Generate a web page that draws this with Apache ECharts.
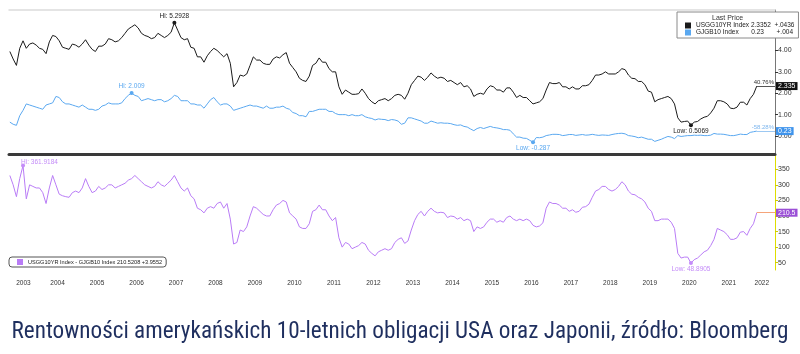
<!DOCTYPE html>
<html lang="pl">
<head>
    <meta charset="UTF-8">
    <title>USGG10YR / GJGB10</title>
    <script src="https://cdn.jsdelivr.net/npm/echarts@6/dist/echarts.min.js"></script>
    <style>
        * { margin: 0; padding: 0; }
        body { background-color: #fff; overflow: hidden; }
        #main { width: 800px; height: 354px; }
    </style>
</head>
<body>
<div id="main"></div>
<script type="text/javascript">

    // first month of data (year, month), one value per month after that
    var firstYear = 2003, firstMonth = 4;

    // USGG10YR Index, %
    var usYield = [
        3.95, 3.6, 3.3, 4.1, 4.45, 4.1, 4.3, 4.35, 4.25,
        4.1, 4.05, 3.85, 4.4, 4.7, 4.65, 4.45, 4.15, 4.1, 4.05, 4.3, 4.25,
        4.15, 4.3, 4.5, 4.25, 4.05, 3.95, 4.2, 4.2, 4.3, 4.55, 4.5, 4.4,
        4.45, 4.6, 4.8, 5.0, 5.1, 5.2, 5.05, 4.8, 4.7, 4.65, 4.55, 4.6,
        4.8, 4.7, 4.6, 4.7, 4.85, 5.2928, 4.95, 4.6, 4.5, 4.55, 4.15, 4.1,
        3.7, 3.7, 3.45, 3.75, 3.95, 4.1, 4.0, 3.85, 3.7, 3.85, 3.4, 2.3,
        2.5, 2.85, 2.8, 2.9, 3.3, 3.7, 3.55, 3.55, 3.4, 3.35, 3.35, 3.6,
        3.7, 3.65, 3.8, 3.9, 3.4, 3.2, 3.0, 2.7, 2.6, 2.55, 2.8, 3.3,
        3.4, 3.65, 3.45, 3.45, 3.15, 3.0, 3.0, 2.3, 1.95, 2.15, 2.05, 1.95,
        1.95, 1.98, 2.2, 2.0, 1.75, 1.6, 1.5, 1.65, 1.7, 1.75, 1.65, 1.75,
        1.9, 1.95, 1.9, 1.72, 2.0, 2.4, 2.6, 2.8, 2.75, 2.6, 2.75, 2.95,
        2.8, 2.7, 2.75, 2.7, 2.55, 2.6, 2.5, 2.4, 2.5, 2.3, 2.35, 2.2,
        1.85, 1.95, 2.0, 1.95, 2.2, 2.35, 2.3, 2.15, 2.15, 2.05, 2.25, 2.25,
        2.05, 1.8, 1.9, 1.8, 1.8, 1.65, 1.5, 1.55, 1.6, 1.75, 2.15, 2.5,
        2.45, 2.45, 2.5, 2.3, 2.3, 2.2, 2.3, 2.2, 2.2, 2.35, 2.35, 2.4,
        2.6, 2.85, 2.85, 2.9, 3.0, 2.9, 2.9, 2.9, 3.0, 3.15, 3.1, 2.85,
        2.7, 2.68, 2.55, 2.55, 2.4, 2.1, 2.05, 1.6, 1.7, 1.75, 1.8, 1.85,
        1.75, 1.5, 0.85, 0.65, 0.68, 0.7, 0.5069, 0.65, 0.68, 0.8, 0.88, 0.92,
        1.08, 1.3, 1.65, 1.65, 1.6, 1.5, 1.3, 1.28, 1.35, 1.58, 1.58, 1.45,
        1.75, 1.95, 2.3352
    ];

    // GJGB10 Index, %
    var jpYield = [
        0.65, 0.55, 0.5, 0.95, 1.2, 1.5, 1.45, 1.4, 1.35,
        1.3, 1.25, 1.45, 1.5, 1.55, 1.85, 1.8, 1.6, 1.5, 1.5, 1.45, 1.4,
        1.35, 1.45, 1.35, 1.25, 1.25, 1.2, 1.25, 1.4, 1.45, 1.55, 1.5, 1.5,
        1.5, 1.55, 1.75, 1.9, 2.009, 1.9, 1.85, 1.65, 1.7, 1.75, 1.7, 1.65,
        1.7, 1.7, 1.6, 1.65, 1.75, 1.9, 1.85, 1.65, 1.65, 1.65, 1.5, 1.5,
        1.45, 1.45, 1.3, 1.5, 1.7, 1.8, 1.6, 1.45, 1.5, 1.5, 1.4, 1.2,
        1.25, 1.3, 1.35, 1.4, 1.45, 1.4, 1.4, 1.35, 1.3, 1.4, 1.3, 1.3,
        1.35, 1.35, 1.4, 1.3, 1.25, 1.1, 1.05, 0.95, 0.95, 0.9, 1.15, 1.15,
        1.2, 1.25, 1.25, 1.25, 1.15, 1.15, 1.05, 1.0, 1.0, 1.0, 0.95, 1.0,
        0.95, 0.95, 1.0, 0.9, 0.85, 0.82, 0.75, 0.8, 0.78, 0.77, 0.72, 0.77,
        0.75, 0.7, 0.55, 0.6, 0.85, 0.85, 0.8, 0.75, 0.7, 0.6, 0.6, 0.7,
        0.65, 0.6, 0.62, 0.6, 0.6, 0.58, 0.53, 0.5, 0.52, 0.45, 0.42, 0.33,
        0.25, 0.35, 0.4, 0.35, 0.4, 0.45, 0.4, 0.38, 0.35, 0.3, 0.3, 0.27,
        0.1, -0.05, -0.05, -0.1, -0.11, -0.2, -0.287, -0.07, -0.08, -0.05, 0.02, 0.05,
        0.08, 0.08, 0.07, 0.02, 0.04, 0.07, 0.07, 0.03, 0.05, 0.07, 0.04, 0.05,
        0.08, 0.05, 0.03, 0.05, 0.04, 0.03, 0.07, 0.1, 0.12, 0.13, 0.1, 0.02,
        0.0, -0.03, -0.08, -0.05, -0.1, -0.15, -0.15, -0.25, -0.2, -0.15, -0.08, -0.02,
        -0.05, -0.12, 0.02, -0.02, 0.0, 0.02, 0.02, 0.04, 0.03, 0.04, 0.02, 0.02,
        0.04, 0.12, 0.09, 0.09, 0.08, 0.05, 0.02, 0.02, 0.05, 0.09, 0.07, 0.07,
        0.17, 0.2, 0.23
    ];

    // USGG10YR Index - GJGB10 Index, bp
    var spreadBp = [
        330, 300, 262, 320, 361.9184, 255, 300, 295, 290,
        290, 275, 240, 290, 330, 300, 270, 265, 262, 260, 275, 280,
        275, 290, 320, 295, 275, 280, 295, 285, 290, 300, 300, 290,
        295, 300, 305, 315, 320, 330, 320, 310, 300, 295, 290, 295,
        310, 300, 295, 305, 315, 330, 310, 290, 280, 290, 265, 255,
        225, 220, 210, 225, 230, 225, 240, 245, 225, 240, 190, 110,
        115, 155, 150, 165, 200, 230, 225, 215, 205, 200, 200, 220,
        235, 240, 250, 245, 210, 200, 190, 165, 160, 160, 175, 215,
        220, 235, 220, 220, 200, 185, 195, 130, 100, 115, 110, 95,
        100, 105, 115, 110, 90, 80, 72, 85, 90, 95, 90, 95,
        115, 125, 130, 112, 120, 155, 185, 205, 215, 200, 215, 225,
        215, 210, 212, 210, 195, 200, 198, 190, 195, 185, 190, 185,
        150, 165, 160, 165, 180, 190, 190, 180, 185, 180, 195, 200,
        190, 185, 190, 185, 190, 185, 170, 165, 168, 178, 225, 245,
        240, 240, 235, 225, 225, 215, 220, 212, 215, 228, 230, 238,
        260, 280, 285, 295, 295, 285, 280, 285, 295, 310, 300, 280,
        270, 268, 260, 255, 245, 225, 215, 185, 185, 190, 190, 190,
        180, 160, 80, 65, 68, 68, 48.8905, 60, 65, 75, 85, 90,
        105, 125, 160, 155, 150, 140, 125, 125, 130, 148, 150, 138,
        160, 175, 210.5208
    ];

    var years = [2003, 2004, 2005, 2006, 2007, 2008, 2009, 2010, 2011, 2012,
        2013, 2014, 2015, 2016, 2017, 2018, 2019, 2020, 2021, 2022];
    var topTicks = [0, 1, 2, 3, 4, 5];
    var bottomTicks = [50, 100, 150, 200, 250, 300, 350];

    var names = ['USGG10YR Index', 'GJGB10 Index', 'USGG10YR Index - GJGB10 Index'];
    var lastPrice = ['2.3352', '0.23', '210.5208'];
    var netChange = ['+.0436', '+.004', '+3.9552'];
    var axisTags = ['2.335', '0.23', '210.5'];
    var pctNotes = ['40.76%', '-58.28%'];
    var titleText = 'Rentowności amerykańskich 10-letnich obligacji USA oraz Japonii, źródło: Bloomberg';

    var xMin = 2003.27, xMax = 2022.67;
    var font = '"Liberation Sans", Arial, sans-serif';
    var titleFont = '"Roboto Condensed", Roboto, sans-serif';

    // fit the caption into the width it takes in the picture
    function fitSize(text, family, width, maxSize) {
        var ctx = document.createElement('canvas').getContext('2d');
        ctx.font = '100px ' + family;
        var s = width / ctx.measureText(text).width * 100;
        return Math.min(maxSize, Math.floor(s * 10) / 10);
    }
    var titleSize = fitSize(titleText, titleFont, 779, 24);

    // month index -> decimal year (middle of month)
    function toPoints(arr) {
        return arr.map(function (v, i) {
            var m = firstMonth - 1 + i;
            return [firstYear + Math.floor(m / 12) + ((m % 12) + 0.5) / 12, v];
        });
    }
    var usPts = toPoints(usYield);
    var jpPts = toPoints(jpYield);
    var spPts = toPoints(spreadBp);

    // year label sits in the middle of the visible part of each year
    var yearPos = years.map(function (y) {
        return (Math.max(y, xMin) + Math.min(y + 1, xMax)) / 2;
    });

    function extreme(type, prefix, color, pos, offset, align) {
        return {
            type: type, valueDim: 'y', symbol: 'circle', symbolSize: 4,
            itemStyle: { color: color },
            label: {
                show: true, position: pos, distance: 1, offset: offset || [0, 0],
                align: align || 'center',
                formatter: function (p) { return prefix + p.value; },
                color: color, fontSize: 6.5, fontFamily: font
            }
        };
    }

    function lastLine(pts, lineColor, note, noteColor, tag, tagBg) {
        var last = pts[pts.length - 1];
        var ls = { color: lineColor, width: 1, type: 'solid' };
        var data = [[
            { coord: last, lineStyle: ls, label: {
                show: true, position: 'end', distance: 1, formatter: tag,
                backgroundColor: tagBg, color: '#fff', padding: [1, 2, 0, 2],
                fontSize: 7, fontFamily: font } },
            { coord: [xMax, last[1]] }
        ]];
        if (note) {
            data.push([
                { coord: last, lineStyle: ls, label: {
                    show: true, position: 'insideEndTop', distance: 1, formatter: note,
                    color: noteColor, fontSize: 6, fontFamily: font } },
                { coord: [xMax, last[1]] }
            ]);
        }
        return { silent: true, symbol: 'none', animation: false, data: data };
    }

    var myChart = echarts.init(document.getElementById('main'));
    var option = {
        animation: false,
        color: ['#1a1a1a', '#5aa8f0', '#b97cf6'],
        title: [
            {
                text: titleText,
                left: 'center', top: 316,
                textStyle: { fontSize: titleSize, fontWeight: 'normal', color: '#1f2f5f', fontFamily: titleFont }
            },
            {
                text: 'Last Price', left: 712, top: 15, padding: 0, z: 10,
                textStyle: { fontSize: 7, fontWeight: 'normal', color: '#333', fontFamily: font }
            }
        ],
        legend: [
            {
                data: [names[0], names[1]],
                left: 677, top: 12, orient: 'vertical', icon: 'rect',
                itemWidth: 6, itemHeight: 6, itemGap: 0,
                padding: [10, 4, 2, 8],
                backgroundColor: '#fff', borderColor: '#8a8a8a', borderWidth: 1,
                textStyle: { fontSize: 6.5, color: '#222', fontFamily: font },
                formatter: function (name) {
                    return name === names[0]
                        ? name + ' ' + lastPrice[0] + '  ' + netChange[0]
                        : name + '       ' + lastPrice[1] + '       ' + netChange[1];
                }
            },
            {
                data: [names[2]],
                left: 9, top: 257, icon: 'rect',
                itemWidth: 6, itemHeight: 6,
                padding: [2, 4, 2, 8],
                backgroundColor: '#fff', borderColor: '#555', borderWidth: 1, borderRadius: 3,
                textStyle: { fontSize: 5.6, color: '#222', fontFamily: font },
                formatter: function (name) {
                    return name + ' ' + lastPrice[2] + ' ' + netChange[2];
                }
            }
        ],
        grid: [
            { left: 9, right: 25, top: 10, height: 144 },
            { left: 9, right: 25, top: 156, height: 114 }
        ],
        xAxis: [
            {
                type: 'value', gridIndex: 0, min: xMin, max: xMax, position: 'bottom',
                axisLine: { show: true, onZero: false, lineStyle: { color: '#3a3a3a', width: 3 } },
                axisTick: { show: false }, axisLabel: { show: false }, splitLine: { show: false }
            },
            {
                type: 'value', gridIndex: 0, min: xMin, max: xMax, position: 'top',
                axisLine: { show: true, onZero: false, lineStyle: { color: '#dcdcdc', width: 1.5 } },
                axisTick: { show: false }, axisLabel: { show: false }, splitLine: { show: false }
            },
            {
                type: 'value', gridIndex: 1, min: xMin, max: xMax, position: 'bottom',
                axisLine: { show: false }, axisTick: { show: false }, splitLine: { show: false },
                axisLabel: {
                    customValues: yearPos, margin: 10,
                    fontSize: 6.5, color: '#333', fontFamily: font,
                    formatter: function (v) { return String(Math.floor(v)); }
                }
            }
        ],
        yAxis: [
            {
                type: 'value', gridIndex: 0, position: 'right', min: -0.84, max: 5.89,
                axisLine: { show: true, onZero: false, lineStyle: { color: '#777', width: 1 } },
                axisTick: { show: true, customValues: topTicks, length: 3, lineStyle: { color: '#333' } },
                splitLine: { show: false },
                axisLabel: {
                    customValues: topTicks, margin: 3, fontSize: 7, color: '#333', fontFamily: font,
                    formatter: function (v) { return v.toFixed(2); }
                }
            },
            {
                type: 'value', gridIndex: 1, position: 'right', min: 26.6, max: 392.6,
                axisLine: { show: true, onZero: false, lineStyle: { color: '#dede00', width: 1 } },
                axisTick: { show: true, customValues: bottomTicks, length: 3, lineStyle: { color: '#cccc00' } },
                splitLine: { show: false },
                axisLabel: {
                    customValues: bottomTicks, margin: 3, fontSize: 7, color: '#333', fontFamily: font
                }
            }
        ],
        series: [
            {
                name: names[0], type: 'line', xAxisIndex: 0, yAxisIndex: 0,
                data: usPts, showSymbol: false, lineStyle: { width: 1, color: '#1a1a1a' },
                markPoint: { silent: true, animation: false, data: [
                    extreme('max', 'Hi: ', '#1a1a1a', 'top'),
                    extreme('min', 'Low: ', '#1a1a1a', 'bottom')
                ] },
                markLine: lastLine(usPts, '#555', pctNotes[0], '#333', axisTags[0], '#111')
            },
            {
                name: names[1], type: 'line', xAxisIndex: 0, yAxisIndex: 0,
                data: jpPts, showSymbol: false, lineStyle: { width: 1, color: '#5aa8f0' },
                markPoint: { silent: true, animation: false, data: [
                    extreme('max', 'Hi: ', '#5aa8f0', 'top'),
                    extreme('min', 'Low: ', '#5aa8f0', 'bottom')
                ] },
                markLine: lastLine(jpPts, '#9cc8f2', pctNotes[1], '#7db6ee', axisTags[1], '#3f94ec')
            },
            {
                name: names[2], type: 'line', xAxisIndex: 2, yAxisIndex: 1,
                data: spPts, showSymbol: false, lineStyle: { width: 1, color: '#b97cf6' },
                markPoint: { silent: true, animation: false, data: [
                    extreme('max', 'Hi: ', '#c48cf8', 'top', [-2, 3], 'left'),
                    extreme('min', 'Low: ', '#c48cf8', 'bottom')
                ] },
                markLine: lastLine(spPts, '#f5a47a', null, null, axisTags[2], '#9b4fd6')
            }
        ]
    };
    myChart.setOption(option);
</script>
</body>
</html>
